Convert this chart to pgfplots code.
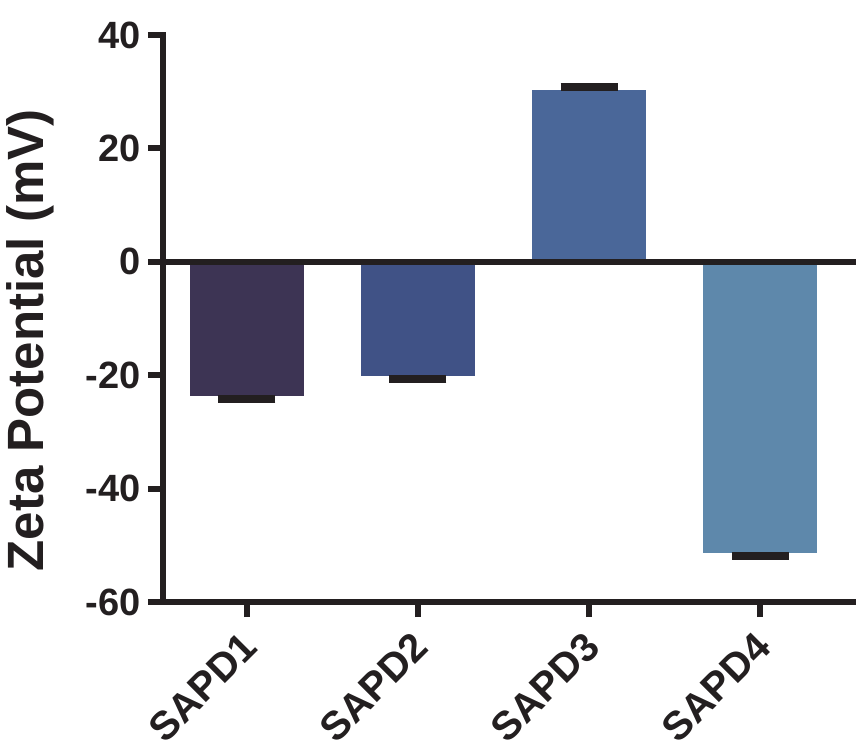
\documentclass[border=0pt]{standalone}
\usepackage{pgfplots}
\pgfplotsset{compat=1.18}
\usepackage{fontspec}
\setmainfont{Liberation Sans}
\definecolor{ink}{RGB}{35,31,32}
\definecolor{cA}{RGB}{61,52,84}
\definecolor{cB}{RGB}{64,82,134}
\definecolor{cC}{RGB}{74,103,153}
\definecolor{cD}{RGB}{94,136,171}
\begin{document}
\begin{tikzpicture}
\useasboundingbox (-163pt,-144pt) rectangle (693pt,602pt);
\begin{axis}[
  at={(0pt,0pt)}, anchor=south west,
  scale only axis, width=693pt, height=567pt,
  xmin=-0.49, xmax=3.56, ymin=-60, ymax=40,
  axis x line*=bottom, axis y line*=left,
  axis line style={ink, line width=6pt, line cap=rect},
  every tick/.style={ink, line width=6pt},
  tick align=outside, major tick length=15pt,
  ytick={-60,-40,-20,0,20,40},
  xtick={0,1,2,3},
  xticklabels={SAPD1,SAPD2,SAPD3,SAPD4},
  /pgf/number format/assume math mode=true,
  tick label style={font=\fontsize{38}{40}\selectfont\bfseries, text=ink},
  yticklabel style={xshift=-4pt},
  xticklabel style={rotate=45, anchor=north east, inner sep=0pt, font=\fontsize{40}{42}\selectfont\bfseries, xshift=-14pt, yshift=-4pt},
  ylabel={Zeta Potential (mV)},
  every axis y label/.style={at={(axis description cs:0,0.5)}, xshift=-133pt, yshift=-22pt, rotate=90, anchor=center, font=\fontsize{51}{53}\selectfont\bfseries, text=ink},
  clip=false,
  error bars/error bar style={ink, line width=8pt},
  error bars/error mark options={ink, line width=8pt, mark size=28.5pt, rotate=90},
]
\addplot[ybar, bar width=0.667, bar shift=0pt, fill=cA, draw=none,
  error bars/.cd, y dir=minus, y explicit] coordinates {(0,-23.6) -= (0,0.6)};
\addplot[ybar, bar width=0.667, bar shift=0pt, fill=cB, draw=none,
  error bars/.cd, y dir=minus, y explicit] coordinates {(1,-20.1) -= (0,0.5)};
\addplot[ybar, bar width=0.667, bar shift=0pt, fill=cC, draw=none,
  error bars/.cd, y dir=plus, y explicit] coordinates {(2,30.3) += (0,0.5)};
\addplot[ybar, bar width=0.667, bar shift=0pt, fill=cD, draw=none,
  error bars/.cd, y dir=minus, y explicit] coordinates {(3,-51.3) -= (0,0.6)};
\addplot[ink, line width=6pt, mark=none] coordinates {(-0.49,0) (3.56,0)};
\end{axis}
\end{tikzpicture}
\end{document}
